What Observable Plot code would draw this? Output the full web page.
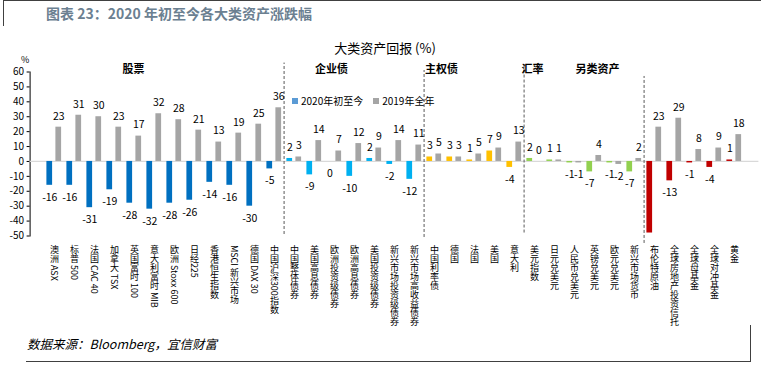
<!DOCTYPE html>
<html>
<head>
<meta charset="utf-8">
<script src="https://cdn.jsdelivr.net/npm/d3@7"></script>
<script src="https://cdn.jsdelivr.net/npm/@observablehq/plot@0.6"></script>
<style>
  html, body { margin: 0; padding: 0; background: #fff; }
  #wrap { position: relative; width: 761px; height: 376px; overflow: hidden; font-family: "Microsoft YaHei", "Noto Sans CJK SC", sans-serif; }
  #wrap svg { position: absolute; left: 0; top: 0; }
  .abs { position: absolute; white-space: nowrap; }
  .title { left: 46px; top: 3px; font-size: 14px; font-weight: bold; color: #6B8091; }
  .ctitle { left: 0; width: 770px; text-align: center; top: 38px; font-size: 13px; color: #000; }
  .pct { left: 21px; top: 53px; font-size: 9px; color: #000; }
  .legend { left: 292px; top: 93px; font-size: 10px; color: #000; display: flex; align-items: center; }
  .legend .sw { display: inline-block; width: 6px; height: 6px; margin-right: 3px; }
  .foot { left: 27px; top: 334px; font-size: 12.5px; font-style: italic; color: #000; }
  .line { position: absolute; background: #404040; }
</style>
</head>
<body>
<div id="wrap">
  <div class="line" style="left:3px;top:0;width:758px;height:1px;"></div>
  <div class="line" style="left:3px;top:0;width:1px;height:26px;"></div>
  <div class="abs title">图表 23：2020 年初至今各大类资产涨跌幅</div>
  <div class="abs ctitle">大类资产回报 (%)</div>
  <div class="abs pct">%</div>
  <div class="abs foot">数据来源：Bloomberg，宜信财富</div>
  <div class="line" style="left:26px;top:361px;width:725px;height:1px;"></div>
  <div class="line" style="left:750px;top:325px;width:1px;height:37px;"></div>
</div>
<script>
const categories = [
  "澳洲 ASX","标普 500","法国 CAC 40","加拿大 TSX","英国富时 100","意大利富时 MIB","欧洲 Stoxx 600","日经225","香港恒生指数","MSCI 新兴市场","德国 DAX 30","中国沪深300指数",
  "中国整体债券","美国高息债券","欧洲投资级债券","欧洲高息债券","美国投资级债券","新兴市场投资级债券","新兴市场高收益债券",
  "中国利率债","德国","法国","美国","意大利",
  "美元指数","日元兑美元","人民币兑美元","英镑兑美元","欧元兑美元","新兴市场货币",
  "布伦特原油","全球房地产投资信托","全球母基金","全球对冲基金","黄金"
];
const groups = [
  "股票","股票","股票","股票","股票","股票","股票","股票","股票","股票","股票","股票",
  "企业债","企业债","企业债","企业债","企业债","企业债","企业债",
  "主权债","主权债","主权债","主权债","主权债",
  "汇率","汇率","汇率","汇率","汇率","汇率",
  "另类资产","另类资产","另类资产","另类资产","另类资产"
];
const v2020 = [-16,-16,-31,-19,-28,-32,-28,-26,-14,-16,-30,-5, 2,-9,0,-10,2,-2,-12, 3,3,1,7,-4, 2,1,-1,-7,-1,-7, -48,-13,-1,-4,1];
const v2019 = [23,31,30,23,17,32,28,21,13,19,25,36, 3,14,7,12,9,14,11, 5,3,5,9,13, 0,1,-1,4,-2,2, 23,29,8,9,18];
const groupNames = ["股票","企业债","主权债","汇率","另类资产"];
const groupColors = ["#0070C0","#00B0F0","#FFC000","#92D050","#C00000"];
const groupAnchors = ["英国富时 100","欧洲投资级债券","中国利率债","美元指数","英镑兑美元"];
const groupShift = [-1, -3, 7, -2, 3];
const separators = ["中国整体债券","中国利率债","美元指数","布伦特原油"];
const sepTop = [66, 61, 66, 57];
const sepBottom = [-49, -51, -48, -55];
const seriesNames = ["2020年初至今","2019年全年"];
const seriesColors = ["#5B9BD5","#A5A5A5"];

const rows = categories.map((c, i) => ({cat: c, group: groups[i], v20: v2020[i], v19: v2019[i]}));
const seps = separators.map((c, i) => ({cat: c, top: sepTop[i], bottom: sepBottom[i]}));
const glabels = groupNames.map((g, i) => ({name: g, cat: groupAnchors[i], shift: groupShift[i]}));

const step = (758.4 - 29.6) / categories.length;

const chart = Plot.plot({
  width: 761,
  height: 376,
  marginLeft: 29.6,
  marginRight: 2.6,
  marginTop: 71.5,
  marginBottom: 140.5,
  style: {fontFamily: "'Microsoft YaHei','Noto Sans CJK SC',sans-serif", fontSize: "10px", color: "#000", background: "transparent"},
  x: {domain: categories, padding: 0, axis: null},
  y: {domain: [-50, 60], ticks: d3.range(-50, 61, 10), tickFormat: d => String(d), tickSize: 3, tickPadding: 3, line: true, label: null},
  color: {domain: groupNames, range: groupColors},
  marks: [
    Plot.ruleY([0], {stroke: "#D9D9D9", strokeWidth: 1.2}),
    Plot.barY(rows, {x: "cat", y: "v20", fill: "group", insetLeft: 2.4, insetRight: 11.9}),
    Plot.barY(rows, {x: "cat", y: "v19", fill: seriesColors[1], insetLeft: 11.4, insetRight: 2.9}),
    Plot.ruleX(seps, {x: "cat", dx: -step / 2, y1: "bottom", y2: "top", stroke: "#595959", strokeDasharray: "3,2", strokeWidth: 1}),
    Plot.text(rows.filter(d => d.v20 > 0), {x: "cat", y: "v20", text: d => String(d.v20), dx: -4.7, dy: -11, fontSize: 10.5}),
    Plot.text(rows.filter(d => d.v20 <= 0 && d.v20 > -45), {x: "cat", y: "v20", text: d => String(d.v20), dx: -4.7, dy: 12, fontSize: 10.5}),
    Plot.text(rows.filter(d => d.v19 >= 0), {x: "cat", y: "v19", text: d => String(d.v19), dx: 4.3, dy: -11, fontSize: 10.5}),
    Plot.text(rows.filter(d => d.v19 < 0), {x: "cat", y: "v19", text: d => String(d.v19), dx: 4.3, dy: 12, fontSize: 10.5}),
    Plot.text(glabels, {x: "cat", y: 60, text: "name", dy: -3, fontSize: 11, fontWeight: "bold"}),
    Plot.text(rows, {x: "cat", y: -50, text: "cat", fontSize: 9, textAnchor: "start"})
  ]
});

const catSet = new Set(categories);
const groupIdx = new Map(groupNames.map((g, i) => [g, i]));
chart.querySelectorAll("text").forEach(t => {
  const s = t.textContent;
  if (catSet.has(s)) {
    t.removeAttribute("dy");
    t.style.writingMode = "vertical-rl";
    t.setAttribute("writing-mode", "vertical-rl");
    t.setAttribute("text-anchor", "start");
    t.setAttribute("dy", "6");
  } else if (groupIdx.has(s)) {
    const sh = groupShift[groupIdx.get(s)];
    const tr = t.getAttribute("transform");
    if (tr) t.setAttribute("transform", tr + ` translate(${sh},0)`);
    else t.setAttribute("x", (+t.getAttribute("x")) + sh);
  }
});

const wrap = document.getElementById("wrap");
wrap.insertBefore(chart, wrap.firstChild);

const legend = document.createElement("div");
legend.className = "abs legend";
seriesNames.forEach((n, i) => {
  const sw = document.createElement("span");
  sw.className = "sw";
  sw.style.background = seriesColors[i];
  const tx = document.createElement("span");
  tx.textContent = n;
  tx.style.marginRight = i === 0 ? "10px" : "0";
  legend.appendChild(sw);
  legend.appendChild(tx);
});
wrap.appendChild(legend);
</script>
</body>
</html>
